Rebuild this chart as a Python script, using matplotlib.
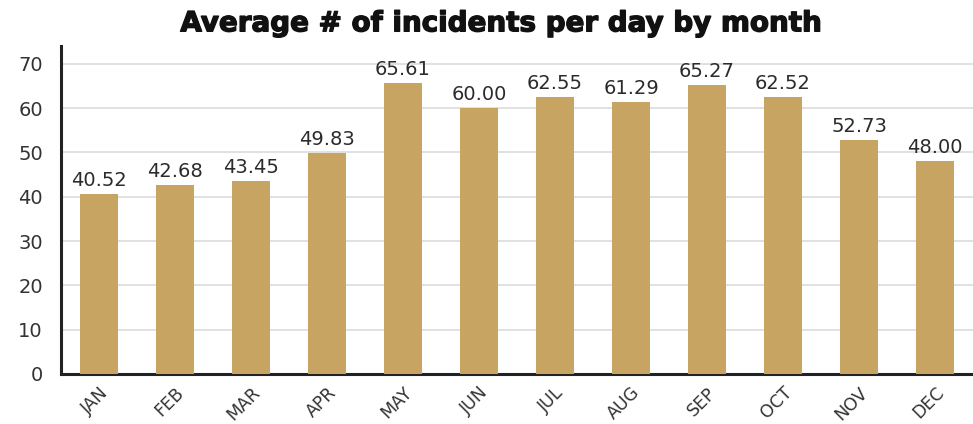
import matplotlib
matplotlib.use("Agg")
import matplotlib.pyplot as plt
import matplotlib.patheffects as pe

months = ["JAN", "FEB", "MAR", "APR", "MAY", "JUN", "JUL", "AUG", "SEP", "OCT", "NOV", "DEC"]
values = [40.52, 42.68, 43.45, 49.83, 65.61, 60.00, 62.55, 61.29, 65.27, 62.52, 52.73, 48.00]
yticks = [0, 10, 20, 30, 40, 50, 60, 70]

plt.rcParams['font.family'] = ['DejaVu Sans']

fig = plt.figure(figsize=(9.73, 4.24), dpi=100)
ax = fig.add_axes([0.0627, 0.118, 0.9373, 0.7735])

x = list(range(len(months)))
ax.bar(x, values, width=0.49, color="#C8A462", zorder=3)
for xi, v in zip(x, values):
    ax.text(xi, v + 0.9, f"{v:.2f}", ha="center", va="bottom", fontsize=14, color="#2b2b2b", zorder=4)

ax.set_xlim(-0.5, 11.5)
ax.set_ylim(0, 74)
ax.set_yticks(yticks)
ax.set_yticklabels([str(t) for t in yticks], fontsize=14, color="#333333")
ax.set_xticks(x)
ax.set_xticklabels(months, rotation=45, ha="right", rotation_mode="anchor", fontsize=12.5, color="#333333")
ax.tick_params(axis="both", length=0)
ax.tick_params(axis="y", pad=13)
ax.tick_params(axis="x", pad=7)
ax.yaxis.grid(True, color="#dcdcdc", linewidth=1.2, zorder=0)
ax.set_axisbelow(True)
for s in ["top", "right"]:
    ax.spines[s].set_visible(False)
for s in ["left", "bottom"]:
    ax.spines[s].set_color("#222222")
    ax.spines[s].set_linewidth(2.2)

fig.text(0.515, 0.945, "Average # of incidents per day by month", ha="center", va="center",
         fontsize=20, fontweight="bold", color="#111111",
         path_effects=[pe.withStroke(linewidth=1.0, foreground="#111111")])

fig.savefig("out.png", dpi=100)
